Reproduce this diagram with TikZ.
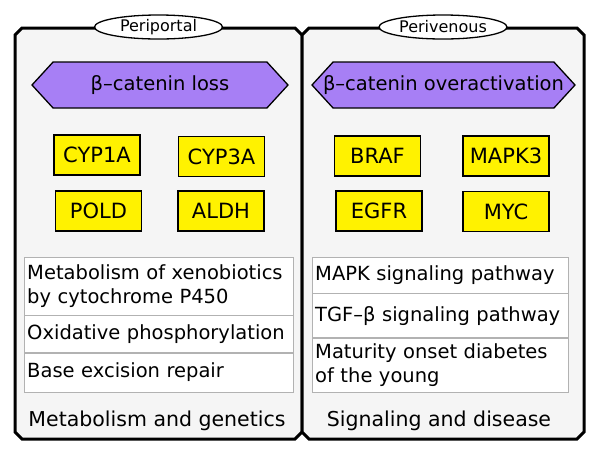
\documentclass[tikz,border=0pt]{standalone}
\usepackage{fontspec}
\setmainfont{DejaVu Sans}
\usetikzlibrary{shapes.symbols,shapes.geometric}
\definecolor{catenin}{RGB}{167,127,245}
\begin{document}
\begin{tikzpicture}[x=1pt,y=-1pt,
  zone/.style={draw,line width=3pt,fill=gray!8,line join=miter},
  zonetag/.style={ellipse,draw,line width=1.3pt,fill=white,
    minimum width=128pt,minimum height=24pt,inner sep=0pt,
    font=\fontsize{16}{18}\selectfont},
  hexa/.style={signal,signal to=west and east,signal pointer angle=95,
    draw,line width=1.3pt,fill=catenin,minimum height=46pt,inner sep=0pt,
    label={[font=\fontsize{19.5}{22}\selectfont]center:#1}},
  gene/.style={draw,line width=1.3pt,fill=yellow,minimum width=86pt,
    minimum height=40pt,inner sep=0pt,font=\fontsize{21}{24}\selectfont},
  pway/.style={draw=gray!60,fill=white,anchor=north west,align=left,
    inner xsep=3pt,inner ysep=0pt,font=\fontsize{19.5}{24}\selectfont},
  group/.style={font=\fontsize{20.5}{24}\selectfont}]
\useasboundingbox (0,0) rectangle (600,459);
% zones
\draw[zone] (15,35) -- (22,28) -- (295,28) -- (302,35) -- (302,432)
  -- (295,439) -- (22,439) -- (15,432) -- cycle;
\draw[zone] (302,35) -- (309,28) -- (577,28) -- (584,35) -- (584,432)
  -- (577,439) -- (309,439) -- (302,432) -- cycle;
\node[zonetag] (pptag) at (158.5,27) {Periportal};
\node[zonetag] (pvtag) at (443,27) {Perivenous};
% beta-catenin state
\node[hexa={β–catenin loss},minimum width=256pt] (loss) at (160,85) {};
\node[hexa={β–catenin overactivation},minimum width=263pt] (over) at (443.5,85) {};
% genes
\node[gene] (cyp1a) at (97,155) {CYP1A};
\node[gene] (cyp3a) at (221.5,156.5) {CYP3A};
\node[gene] (pold) at (98.5,211) {POLD};
\node[gene] (aldh) at (221,211) {ALDH};
\node[gene] (braf) at (377.5,156) {BRAF};
\node[gene] (mapk3) at (506,156) {MAPK3};
\node[gene] (egfr) at (379,211) {EGFR};
\node[gene] (myc) at (506,211.5) {MYC};
% pathways
\node[pway,text width=263pt,minimum height=58pt] (xeno) at (24,257)
  {Metabolism of xenobiotics\\by cytochrome P450};
\node[pway,text width=263pt,minimum height=37pt] (oxphos) at (xeno.south west)
  {Oxidative phosphorylation};
\node[pway,text width=263pt,minimum height=39pt] (ber) at (oxphos.south west)
  {Base excision repair};
\node[pway,text width=250pt,minimum height=36pt] (mapk) at (312,257)
  {MAPK signaling pathway};
\node[pway,text width=250pt,minimum height=44pt] (tgfb) at (mapk.south west)
  {TGF–β signaling pathway};
\node[pway,text width=250pt,minimum height=54pt] (mody) at (tgfb.south west)
  {Maturity onset diabetes\\of the young};
% groups
\node[group] (metab) at (157,421) {Metabolism and genetics};
\node[group] (sigdis) at (439,421) {Signaling and disease};
\end{tikzpicture}
\end{document}
